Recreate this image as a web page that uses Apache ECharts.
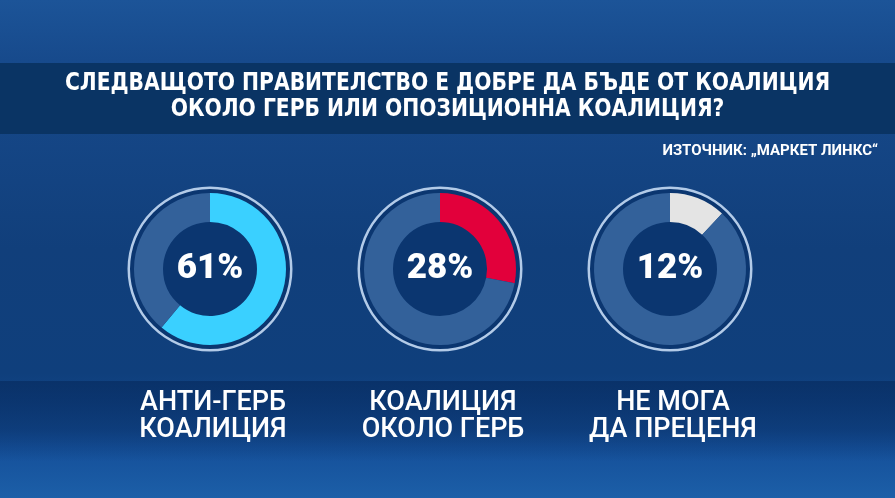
<!DOCTYPE html>
<html>
<head>
<meta charset="utf-8">
<script src="https://cdn.jsdelivr.net/npm/echarts@6/dist/echarts.min.js"></script>
<style>html,body{margin:0;padding:0;background:#123f7c;}#c{width:895px;height:498px;}</style>
</head>
<body>
<div id="c"></div>
<script>
const titleLines = ['СЛЕДВАЩОТО ПРАВИТЕЛСТВО Е ДОБРЕ ДА БЪДЕ ОТ КОАЛИЦИЯ', 'ОКОЛО ГЕРБ ИЛИ ОПОЗИЦИОННА КОАЛИЦИЯ?'];
const sourceText = 'ИЗТОЧНИК: „МАРКЕТ ЛИНКС“';
const categories = [['АНТИ-ГЕРБ', 'КОАЛИЦИЯ'], ['КОАЛИЦИЯ', 'ОКОЛО ГЕРБ'], ['НЕ МОГА', 'ДА ПРЕЦЕНЯ']];
const values = [61, 28, 12];
const arcColors = ['#3ad0ff', '#e2003b', '#e4e4e4'];

const centersX = [210, 440, 670];
const cy = 269;
const W = 895;

const series = [];
values.forEach((v, i) => {
  const c = [centersX[i], cy];
  series.push({type:'pie', silent:true, center:c, radius:[0, 80], startAngle:90, z:1,
    label:{show:false}, labelLine:{show:false}, itemStyle:{color:'#0b3670'},
    data:[{value:1}]});
  series.push({type:'pie', silent:true, center:c, radius:[80, 82.5], startAngle:90, z:2,
    label:{show:false}, labelLine:{show:false}, itemStyle:{color:'#b3cbe8'},
    data:[{value:1}]});
  series.push({type:'pie', silent:true, center:c, radius:[47, 76], startAngle:90, clockwise:true, z:3,
    labelLine:{show:false},
    data:[
      {value:v, itemStyle:{color:arcColors[i]},
       label:{show:true, position:'center', formatter: v + '%', color:'#ffffff',
              fontFamily:'Roboto', fontWeight:900, fontSize:35}},
      {value:100 - v, itemStyle:{color:'#33619a'}, label:{show:false}}
    ]});
});

const graphic = [
  {type:'rect', z:-10, shape:{x:0, y:0, width:W, height:498},
   style:{fill:{type:'linear', x:0, y:0, x2:0, y2:1, colorStops:[
     {offset:0, color:'#1c5498'}, {offset:0.12, color:'#174a8c'}, {offset:0.5, color:'#113f7b'},
     {offset:0.75, color:'#0f3f7c'}, {offset:0.9, color:'#15509a'}, {offset:1, color:'#1c5fa8'}]}}},
  {type:'rect', z:-9, shape:{x:0, y:63, width:W, height:71}, style:{fill:'#0a3464'}},
  {type:'rect', z:-9, shape:{x:0, y:381, width:W, height:80},
   style:{fill:{type:'linear', x:0, y:0, x2:0, y2:1, colorStops:[
     {offset:0, color:'rgba(8,46,100,0.8)'}, {offset:0.6, color:'rgba(8,46,100,0.5)'}, {offset:1, color:'rgba(8,46,100,0)'}]}}},
  {type:'text', z:10, x:W/2, y:84, scaleX:0.94, style:{text:titleLines[0], fill:'#ffffff', align:'center', verticalAlign:'middle',
    font:'bold 24px "DejaVu Sans Condensed", "DejaVu Sans"'}},
  {type:'text', z:10, x:W/2, y:110, scaleX:0.94, style:{text:titleLines[1], fill:'#ffffff', align:'center', verticalAlign:'middle',
    font:'bold 24px "DejaVu Sans Condensed", "DejaVu Sans"'}},
  {type:'text', z:10, x:878, y:151, style:{text:sourceText, fill:'#ffffff', align:'right', verticalAlign:'middle',
    font:'bold 15px Roboto'}}
];
categories.forEach((lines, i) => {
  lines.forEach((t, j) => {
    graphic.push({type:'text', z:10, x:centersX[i] + 3, y:403 + j * 27,
      style:{text:t, fill:'#ffffff', align:'center', verticalAlign:'middle', font:'500 27px Roboto'}});
  });
});

const chart = echarts.init(document.getElementById('c'));
chart.setOption({animation:false, backgroundColor:'#123f7c', graphic: graphic, series: series});
</script>
</body>
</html>
